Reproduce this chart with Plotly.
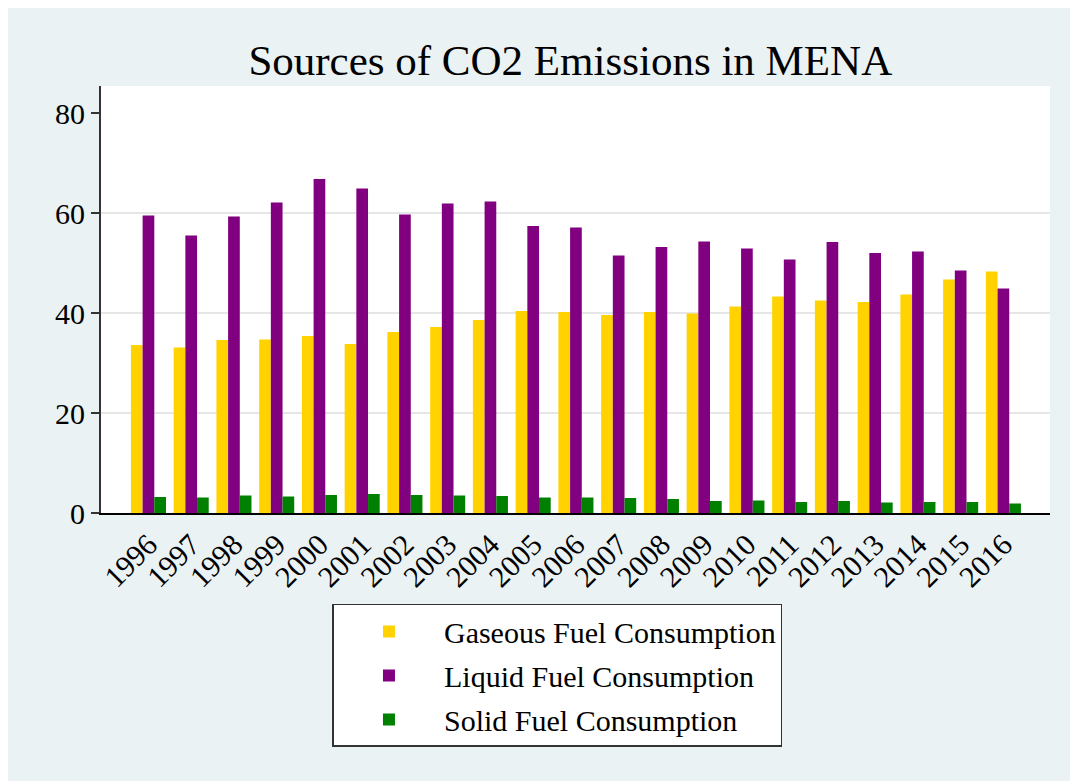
import plotly.graph_objects as go

years = [1996, 1997, 1998, 1999, 2000, 2001, 2002, 2003, 2004, 2005, 2006,
         2007, 2008, 2009, 2010, 2011, 2012, 2013, 2014, 2015, 2016]
year_labels = [str(y) for y in years]
gaseous = [33.6, 33.1, 34.6, 34.7, 35.4, 33.8, 36.2, 37.2, 38.6, 40.4, 40.2,
           39.6, 40.2, 39.9, 41.3, 43.3, 42.5, 42.2, 43.7, 46.7, 48.3]
liquid = [59.5, 55.5, 59.3, 62.1, 66.8, 64.9, 59.7, 61.9, 62.3, 57.4, 57.1,
          51.5, 53.2, 54.3, 52.9, 50.7, 54.2, 52.0, 52.3, 48.5, 44.9]
solid = [3.2, 3.1, 3.5, 3.3, 3.6, 3.8, 3.6, 3.5, 3.4, 3.1, 3.1,
         3.0, 2.8, 2.4, 2.5, 2.2, 2.4, 2.1, 2.2, 2.2, 1.9]
series_names = ["Gaseous Fuel Consumption", "Liquid Fuel Consumption", "Solid Fuel Consumption"]
series_colors = ["#FFD200", "#800080", "#008000"]
y_ticks = [0, 20, 40, 60, 80]
grid_vals = [20, 40, 60]

FONT = "Liberation Serif, Times New Roman, serif"
BG = "#EAF2F3"

fig = go.Figure()
for i, (name, vals, col) in enumerate(zip(series_names, [gaseous, liquid, solid], series_colors)):
    fig.add_trace(go.Bar(x=years, y=vals, name=name, marker_color=col,
                         marker_line_width=0, legendgroup=f"g{i}"))

shapes = []
for g in grid_vals:
    shapes.append(dict(type="line", xref="paper", yref="y", x0=0, x1=1, y0=g, y1=g,
                       line=dict(color="#E6E6E6", width=2), layer="below"))

fig.update_layout(
    width=1070, height=773,
    margin=dict(l=93, r=28, t=78, b=268),
    paper_bgcolor=BG,
    plot_bgcolor="white",
    barmode="group", bargap=0.18, bargroupgap=0,
    shapes=shapes,
    title=dict(text="Sources of CO2 Emissions in MENA", x=0.5255, xanchor="center",
               y=0.933, yanchor="middle", font=dict(family=FONT, size=43, color="black")),
    font=dict(family=FONT, color="black"),
    xaxis=dict(range=[1994.89, 2017.09], tickmode="array", tickvals=years, ticktext=year_labels,
               tickangle=-45, tickfont=dict(family=FONT, size=30, color="black"),
               showline=True, linecolor="black", linewidth=2, ticks="", showgrid=False,
               zeroline=False),
    yaxis=dict(range=[0, 85.4], tickmode="array", tickvals=y_ticks,
               tickfont=dict(family=FONT, size=30, color="black"),
               showline=True, linecolor="#333333", linewidth=2, ticks="outside",
               ticklen=8, tickwidth=1.5, tickcolor="#333333", showgrid=False, zeroline=False),
    legend=dict(x=0.481, xanchor="center", y=-0.213, yanchor="top",
                bgcolor="white", bordercolor="#333333", borderwidth=1.5,
                font=dict(family=FONT, size=30, color="black"),
                tracegroupgap=2, itemwidth=100),
)

fig.write_html("out.html")
